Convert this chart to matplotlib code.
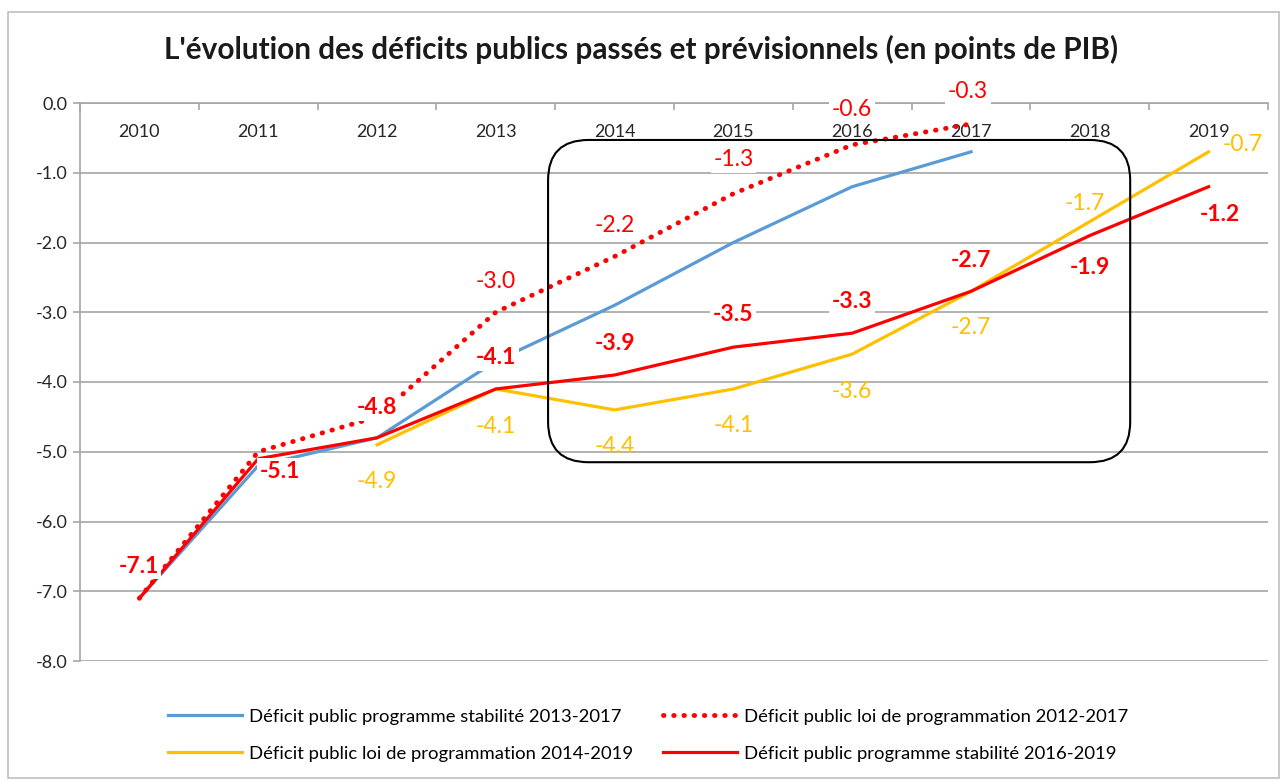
import numpy as np
import matplotlib
matplotlib.use("Agg")  # headless
import matplotlib.pyplot as plt
from matplotlib.patches import FancyBboxPatch, Rectangle
from matplotlib.ticker import FixedLocator, FormatStrFormatter

# data (points de PIB), NaN = pas de valeur
YEARS = ["2010", "2011", "2012", "2013", "2014", "2015", "2016", "2017", "2018", "2019"]
PSTAB_2013_2017 = [-7.1, -5.2, -4.8, -3.7, -2.9, -2.0, -1.2, -0.7, np.nan, np.nan]
LPFP_2012_2017 = [-7.1, -5.0, -4.5, -3.0, -2.2, -1.3, -0.6, -0.3, np.nan, np.nan]
LPFP_2014_2019 = [np.nan, np.nan, -4.9, -4.1, -4.4, -4.1, -3.6, -2.7, -1.7, -0.7]
PSTAB_2016_2019 = [-7.1, -5.1, -4.8, -4.1, -3.9, -3.5, -3.3, -2.7, -1.9, -1.2]

LABELS = [
    "Déficit public programme stabilité 2013-2017",
    "Déficit public loi de programmation 2012-2017",
    "Déficit public loi de programmation 2014-2019",
    "Déficit public programme stabilité 2016-2019",
]

BLUE = "#5B9BD5"
RED = "#FF0000"
YELLOW = "#FFC000"
GRID = "#A6A6A6"

# data label offsets in pixels, keyed by year index
LPFP12_OFFSETS = {3: (0, 31), 4: (0, 31), 5: (0, 34), 6: (0, 35), 7: (-3, 32)}
LPFP14_OFFSETS = {2: (0, -37), 3: (0, -38), 4: (0, -37), 5: (0, -37), 6: (0, -37),
                  7: (0, -36), 8: (-5, 18), 9: (34, 7)}
PSTAB16_OFFSETS = {0: (-1, 32), 1: (22, -13), 2: (0, 30), 3: (0, 31), 4: (0, 32),
                   5: (0, 33), 6: (0, 32), 7: (0, 31), 8: (0, -32), 9: (11, -28)}

plt.rcParams["font.family"] = ["Lato", "DejaVu Sans"]


def add_labels(ax, x, values, offsets, color, weight, filled=True):
    box = dict(boxstyle="square,pad=0.12", fc="white", ec="none") if filled else None
    for i, (dx, dy) in offsets.items():
        ax.annotate(f"{values[i]:.1f}", (x[i], values[i]), xytext=(dx, dy),
                    textcoords="offset pixels", ha="center", va="center",
                    fontsize=16.5, color=color, fontweight=weight, zorder=6, bbox=box)


def main() -> None:
    fig = plt.figure(figsize=(12.83, 7.80), dpi=100)
    ax = fig.add_axes([80 / 1283, 1 - 661 / 780, 1188 / 1283, 558 / 780])
    x = np.arange(len(YEARS))

    ax.plot(x, PSTAB_2013_2017, color=BLUE, lw=2.3, label=LABELS[0], zorder=4)
    ax.plot(x, LPFP_2012_2017, color=RED, lw=3.5, ls=(0, (0.1, 2.0)),
            dash_capstyle="round", label=LABELS[1], zorder=4)
    ax.plot(x, LPFP_2014_2019, color=YELLOW, lw=2.3, label=LABELS[2], zorder=4)
    ax.plot(x, PSTAB_2016_2019, color=RED, lw=2.3, label=LABELS[3], zorder=4)

    add_labels(ax, x, LPFP_2012_2017, LPFP12_OFFSETS, RED, "normal")
    add_labels(ax, x, LPFP_2014_2019, LPFP14_OFFSETS, YELLOW, "normal", filled=False)
    add_labels(ax, x, PSTAB_2016_2019, PSTAB16_OFFSETS, RED, "bold")

    # axes styling: category axis crossing at 0
    ax.set_xlim(-0.5, len(YEARS) - 0.5)
    ax.set_ylim(-8, 0)
    ax.spines["bottom"].set_position(("data", 0))
    ax.spines[["top", "right"]].set_visible(False)
    for s in ("bottom", "left"):
        ax.spines[s].set_color(GRID)
        ax.spines[s].set_linewidth(1.2)
    ax.set_xticks(x)
    ax.set_xticklabels(YEARS)
    ax.xaxis.set_minor_locator(FixedLocator(np.arange(len(YEARS) + 1) - 0.5))
    ax.tick_params(axis="x", which="major", length=0, pad=15, labelsize=13, colors="#262626")
    ax.tick_params(axis="x", which="minor", length=5, width=1.2, color=GRID, direction="out")
    ax.set_yticks(np.arange(-8, 1, 1))
    ax.yaxis.set_major_formatter(FormatStrFormatter("%.1f"))
    ax.tick_params(axis="y", length=5, width=1.2, color=GRID, labelsize=13,
                   labelcolor="#262626", pad=4)
    ax.grid(axis="y", color=GRID, lw=1.2)
    ax.set_axisbelow(True)

    # rounded box highlighting 2014-2018
    box = FancyBboxPatch((3.44, -5.15), 4.9, 4.62,
                         boxstyle="round,pad=0,rounding_size=0.34",
                         mutation_aspect=118.8 / 69.75,
                         fc="none", ec="black", lw=1.5, zorder=7)
    ax.add_patch(box)

    fig.text(0.5, 1 - 49 / 780,
             "L'évolution des déficits publics passés et prévisionnels (en points de PIB)",
             ha="center", va="center", fontsize=21.4, fontweight="bold", color="#1a1a1a")

    handles, labels = ax.get_legend_handles_labels()
    order = [0, 2, 1, 3]
    fig.legend([handles[i] for i in order], [labels[i] for i in order],
               loc="lower center", bbox_to_anchor=(0.505, 0.002), ncol=2, frameon=False,
               fontsize=13.3, handlelength=4.0, columnspacing=1.6, labelspacing=1.15,
               handletextpad=0.4)

    fig.patches.append(Rectangle((8 / 1283, 0.002), 1 - 12 / 1283, 1 - 12 / 780 - 0.002,
                                 transform=fig.transFigure, fill=False,
                                 ec="#BFBFBF", lw=1.2))

    fig.savefig("out.png", dpi=100)
    plt.close(fig)


if __name__ == "__main__":
    main()
